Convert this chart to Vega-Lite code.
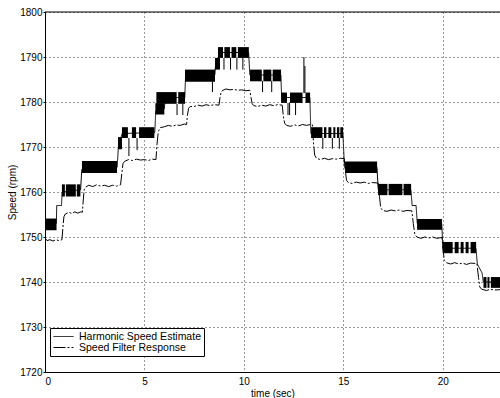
{
  "$schema": "https://vega.github.io/schema/vega-lite/v6.json",
  "autosize": "none",
  "padding": {"left": 45, "top": 12, "right": 0, "bottom": 26},
  "width": 455,
  "height": 360,
  "background": "white",
  "config": {
    "view": {"stroke": null},
    "font": "Liberation Sans",
    "axis": {
      "grid": true,
      "gridDash": [1, 3],
      "gridColor": "#000",
      "gridOpacity": 0.8,
      "domainColor": "#000",
      "ticks": false,
      "labelFontSize": 10,
      "labelColor": "#000",
      "titleFontSize": 10,
      "titleFontWeight": "normal",
      "titleColor": "#000"
    }
  },
  "datasets": {
    "lines": [
      {"series": "Harmonic Speed Estimate", "t": 0, "v": 1753},
      {"series": "Harmonic Speed Estimate", "t": 0.57, "v": 1753},
      {"series": "Harmonic Speed Estimate", "t": 0.59, "v": 1757},
      {"series": "Harmonic Speed Estimate", "t": 0.83, "v": 1757},
      {"series": "Harmonic Speed Estimate", "t": 0.86, "v": 1760},
      {"series": "Harmonic Speed Estimate", "t": 1.79, "v": 1760.5},
      {"series": "Harmonic Speed Estimate", "t": 1.85, "v": 1765},
      {"series": "Harmonic Speed Estimate", "t": 3.63, "v": 1765.5},
      {"series": "Harmonic Speed Estimate", "t": 3.69, "v": 1770},
      {"series": "Harmonic Speed Estimate", "t": 3.88, "v": 1773},
      {"series": "Harmonic Speed Estimate", "t": 5.52, "v": 1773.2},
      {"series": "Harmonic Speed Estimate", "t": 5.57, "v": 1778},
      {"series": "Harmonic Speed Estimate", "t": 6.0, "v": 1778.5},
      {"series": "Harmonic Speed Estimate", "t": 6.05, "v": 1781},
      {"series": "Harmonic Speed Estimate", "t": 7.03, "v": 1781},
      {"series": "Harmonic Speed Estimate", "t": 7.07, "v": 1786},
      {"series": "Harmonic Speed Estimate", "t": 8.54, "v": 1786},
      {"series": "Harmonic Speed Estimate", "t": 8.58, "v": 1788.5},
      {"series": "Harmonic Speed Estimate", "t": 8.7, "v": 1788.5},
      {"series": "Harmonic Speed Estimate", "t": 8.74, "v": 1791},
      {"series": "Harmonic Speed Estimate", "t": 10.24, "v": 1791},
      {"series": "Harmonic Speed Estimate", "t": 10.3, "v": 1786},
      {"series": "Harmonic Speed Estimate", "t": 11.86, "v": 1786},
      {"series": "Harmonic Speed Estimate", "t": 11.9, "v": 1781},
      {"series": "Harmonic Speed Estimate", "t": 13.32, "v": 1781},
      {"series": "Harmonic Speed Estimate", "t": 13.37, "v": 1773},
      {"series": "Harmonic Speed Estimate", "t": 14.98, "v": 1773},
      {"series": "Harmonic Speed Estimate", "t": 15.06, "v": 1765.5},
      {"series": "Harmonic Speed Estimate", "t": 16.69, "v": 1765.5},
      {"series": "Harmonic Speed Estimate", "t": 16.76, "v": 1760.5},
      {"series": "Harmonic Speed Estimate", "t": 18.4, "v": 1760.5},
      {"series": "Harmonic Speed Estimate", "t": 18.46, "v": 1757},
      {"series": "Harmonic Speed Estimate", "t": 18.66, "v": 1757},
      {"series": "Harmonic Speed Estimate", "t": 18.72, "v": 1753},
      {"series": "Harmonic Speed Estimate", "t": 19.95, "v": 1753},
      {"series": "Harmonic Speed Estimate", "t": 20.01, "v": 1747.5},
      {"series": "Harmonic Speed Estimate", "t": 21.67, "v": 1747.5},
      {"series": "Harmonic Speed Estimate", "t": 21.74, "v": 1744},
      {"series": "Harmonic Speed Estimate", "t": 21.98, "v": 1742},
      {"series": "Harmonic Speed Estimate", "t": 22.04, "v": 1740},
      {"series": "Harmonic Speed Estimate", "t": 22.88, "v": 1740},

      {"series": "Speed Filter Response", "t": 0, "v": 1749.8},
      {"series": "Speed Filter Response", "t": 0.1, "v": 1749.2},
      {"series": "Speed Filter Response", "t": 0.25, "v": 1749.4},
      {"series": "Speed Filter Response", "t": 0.4, "v": 1749.1},
      {"series": "Speed Filter Response", "t": 0.55, "v": 1749.4},
      {"series": "Speed Filter Response", "t": 0.7, "v": 1749.2},
      {"series": "Speed Filter Response", "t": 0.85, "v": 1749.4},
      {"series": "Speed Filter Response", "t": 0.9, "v": 1752},
      {"series": "Speed Filter Response", "t": 0.95, "v": 1754.5},
      {"series": "Speed Filter Response", "t": 1.02, "v": 1755.1},
      {"series": "Speed Filter Response", "t": 1.2, "v": 1755.5},
      {"series": "Speed Filter Response", "t": 1.35, "v": 1755.2},
      {"series": "Speed Filter Response", "t": 1.5, "v": 1755.6},
      {"series": "Speed Filter Response", "t": 1.65, "v": 1755.3},
      {"series": "Speed Filter Response", "t": 1.8, "v": 1755.6},
      {"series": "Speed Filter Response", "t": 1.88, "v": 1755.5},
      {"series": "Speed Filter Response", "t": 1.92, "v": 1758},
      {"series": "Speed Filter Response", "t": 1.97, "v": 1760.5},
      {"series": "Speed Filter Response", "t": 2.05, "v": 1761.1},
      {"series": "Speed Filter Response", "t": 2.2, "v": 1761.5},
      {"series": "Speed Filter Response", "t": 2.4, "v": 1761.2},
      {"series": "Speed Filter Response", "t": 2.6, "v": 1761.6},
      {"series": "Speed Filter Response", "t": 2.8, "v": 1761.3},
      {"series": "Speed Filter Response", "t": 3.0, "v": 1761.5},
      {"series": "Speed Filter Response", "t": 3.2, "v": 1761.2},
      {"series": "Speed Filter Response", "t": 3.4, "v": 1761.5},
      {"series": "Speed Filter Response", "t": 3.6, "v": 1761.3},
      {"series": "Speed Filter Response", "t": 3.8, "v": 1761.6},
      {"series": "Speed Filter Response", "t": 3.86, "v": 1764},
      {"series": "Speed Filter Response", "t": 3.92, "v": 1766.3},
      {"series": "Speed Filter Response", "t": 4.0, "v": 1766.8},
      {"series": "Speed Filter Response", "t": 4.2, "v": 1767.2},
      {"series": "Speed Filter Response", "t": 4.4, "v": 1767.0},
      {"series": "Speed Filter Response", "t": 4.6, "v": 1767.3},
      {"series": "Speed Filter Response", "t": 4.8, "v": 1767.1},
      {"series": "Speed Filter Response", "t": 5.0, "v": 1767.2},
      {"series": "Speed Filter Response", "t": 5.2, "v": 1767.0},
      {"series": "Speed Filter Response", "t": 5.4, "v": 1767.3},
      {"series": "Speed Filter Response", "t": 5.58, "v": 1767.2},
      {"series": "Speed Filter Response", "t": 5.63, "v": 1770.5},
      {"series": "Speed Filter Response", "t": 5.7, "v": 1773.5},
      {"series": "Speed Filter Response", "t": 5.8, "v": 1774.3},
      {"series": "Speed Filter Response", "t": 6.0, "v": 1774.5},
      {"series": "Speed Filter Response", "t": 6.2, "v": 1774.8},
      {"series": "Speed Filter Response", "t": 6.4, "v": 1774.6},
      {"series": "Speed Filter Response", "t": 6.6, "v": 1774.9},
      {"series": "Speed Filter Response", "t": 6.8, "v": 1774.8},
      {"series": "Speed Filter Response", "t": 7.0, "v": 1775.1},
      {"series": "Speed Filter Response", "t": 7.12, "v": 1775.0},
      {"series": "Speed Filter Response", "t": 7.16, "v": 1777},
      {"series": "Speed Filter Response", "t": 7.22, "v": 1778.6},
      {"series": "Speed Filter Response", "t": 7.3, "v": 1779.0},
      {"series": "Speed Filter Response", "t": 7.5, "v": 1779.0},
      {"series": "Speed Filter Response", "t": 7.7, "v": 1779.3},
      {"series": "Speed Filter Response", "t": 7.9, "v": 1779.1},
      {"series": "Speed Filter Response", "t": 8.1, "v": 1779.4},
      {"series": "Speed Filter Response", "t": 8.3, "v": 1779.2},
      {"series": "Speed Filter Response", "t": 8.5, "v": 1779.4},
      {"series": "Speed Filter Response", "t": 8.75, "v": 1779.3},
      {"series": "Speed Filter Response", "t": 8.8, "v": 1781},
      {"series": "Speed Filter Response", "t": 8.86, "v": 1782.3},
      {"series": "Speed Filter Response", "t": 8.95, "v": 1782.6},
      {"series": "Speed Filter Response", "t": 9.1, "v": 1782.9},
      {"series": "Speed Filter Response", "t": 9.3, "v": 1782.7},
      {"series": "Speed Filter Response", "t": 9.5, "v": 1782.8},
      {"series": "Speed Filter Response", "t": 9.7, "v": 1782.6},
      {"series": "Speed Filter Response", "t": 9.9, "v": 1782.7},
      {"series": "Speed Filter Response", "t": 10.1, "v": 1782.5},
      {"series": "Speed Filter Response", "t": 10.3, "v": 1782.6},
      {"series": "Speed Filter Response", "t": 10.36, "v": 1781},
      {"series": "Speed Filter Response", "t": 10.42, "v": 1779.6},
      {"series": "Speed Filter Response", "t": 10.5, "v": 1779.2},
      {"series": "Speed Filter Response", "t": 10.7, "v": 1779.0},
      {"series": "Speed Filter Response", "t": 10.9, "v": 1779.3},
      {"series": "Speed Filter Response", "t": 11.1, "v": 1779.1},
      {"series": "Speed Filter Response", "t": 11.3, "v": 1779.4},
      {"series": "Speed Filter Response", "t": 11.5, "v": 1779.2},
      {"series": "Speed Filter Response", "t": 11.7, "v": 1779.4},
      {"series": "Speed Filter Response", "t": 11.93, "v": 1779.3},
      {"series": "Speed Filter Response", "t": 11.98, "v": 1777},
      {"series": "Speed Filter Response", "t": 12.05, "v": 1775.3},
      {"series": "Speed Filter Response", "t": 12.15, "v": 1774.8},
      {"series": "Speed Filter Response", "t": 12.35, "v": 1774.6},
      {"series": "Speed Filter Response", "t": 12.55, "v": 1774.9},
      {"series": "Speed Filter Response", "t": 12.75, "v": 1774.7},
      {"series": "Speed Filter Response", "t": 12.95, "v": 1775.0},
      {"series": "Speed Filter Response", "t": 13.15, "v": 1774.8},
      {"series": "Speed Filter Response", "t": 13.35, "v": 1775.0},
      {"series": "Speed Filter Response", "t": 13.45, "v": 1774.9},
      {"series": "Speed Filter Response", "t": 13.5, "v": 1771},
      {"series": "Speed Filter Response", "t": 13.56, "v": 1768.2},
      {"series": "Speed Filter Response", "t": 13.65, "v": 1767.5},
      {"series": "Speed Filter Response", "t": 13.85, "v": 1767.2},
      {"series": "Speed Filter Response", "t": 14.05, "v": 1767.5},
      {"series": "Speed Filter Response", "t": 14.25, "v": 1767.2},
      {"series": "Speed Filter Response", "t": 14.45, "v": 1767.4},
      {"series": "Speed Filter Response", "t": 14.65, "v": 1767.3},
      {"series": "Speed Filter Response", "t": 14.85, "v": 1767.5},
      {"series": "Speed Filter Response", "t": 15.05, "v": 1767.4},
      {"series": "Speed Filter Response", "t": 15.1, "v": 1765},
      {"series": "Speed Filter Response", "t": 15.16, "v": 1762.6},
      {"series": "Speed Filter Response", "t": 15.25, "v": 1762.1},
      {"series": "Speed Filter Response", "t": 15.45, "v": 1761.9},
      {"series": "Speed Filter Response", "t": 15.65, "v": 1762.2},
      {"series": "Speed Filter Response", "t": 15.85, "v": 1762.0},
      {"series": "Speed Filter Response", "t": 16.05, "v": 1762.2},
      {"series": "Speed Filter Response", "t": 16.25, "v": 1761.9},
      {"series": "Speed Filter Response", "t": 16.45, "v": 1762.1},
      {"series": "Speed Filter Response", "t": 16.75, "v": 1762.0},
      {"series": "Speed Filter Response", "t": 16.82, "v": 1759},
      {"series": "Speed Filter Response", "t": 16.88, "v": 1756.5},
      {"series": "Speed Filter Response", "t": 16.98, "v": 1755.9},
      {"series": "Speed Filter Response", "t": 17.2, "v": 1755.7},
      {"series": "Speed Filter Response", "t": 17.4, "v": 1756.0},
      {"series": "Speed Filter Response", "t": 17.6, "v": 1755.8},
      {"series": "Speed Filter Response", "t": 17.8, "v": 1756.0},
      {"series": "Speed Filter Response", "t": 18.0, "v": 1755.7},
      {"series": "Speed Filter Response", "t": 18.2, "v": 1755.9},
      {"series": "Speed Filter Response", "t": 18.45, "v": 1755.8},
      {"series": "Speed Filter Response", "t": 18.52, "v": 1753},
      {"series": "Speed Filter Response", "t": 18.6, "v": 1750.5},
      {"series": "Speed Filter Response", "t": 18.7, "v": 1750.0},
      {"series": "Speed Filter Response", "t": 18.9, "v": 1749.7},
      {"series": "Speed Filter Response", "t": 19.1, "v": 1750.0},
      {"series": "Speed Filter Response", "t": 19.3, "v": 1749.8},
      {"series": "Speed Filter Response", "t": 19.5, "v": 1750.0},
      {"series": "Speed Filter Response", "t": 19.7, "v": 1749.7},
      {"series": "Speed Filter Response", "t": 19.96, "v": 1749.9},
      {"series": "Speed Filter Response", "t": 20.02, "v": 1747},
      {"series": "Speed Filter Response", "t": 20.08, "v": 1744.8},
      {"series": "Speed Filter Response", "t": 20.18, "v": 1744.3},
      {"series": "Speed Filter Response", "t": 20.4, "v": 1744.0},
      {"series": "Speed Filter Response", "t": 20.6, "v": 1744.3},
      {"series": "Speed Filter Response", "t": 20.8, "v": 1744.0},
      {"series": "Speed Filter Response", "t": 21.0, "v": 1744.2},
      {"series": "Speed Filter Response", "t": 21.2, "v": 1743.9},
      {"series": "Speed Filter Response", "t": 21.4, "v": 1744.2},
      {"series": "Speed Filter Response", "t": 21.72, "v": 1744.1},
      {"series": "Speed Filter Response", "t": 21.8, "v": 1741},
      {"series": "Speed Filter Response", "t": 21.86, "v": 1738.9},
      {"series": "Speed Filter Response", "t": 21.96, "v": 1738.4},
      {"series": "Speed Filter Response", "t": 22.2, "v": 1738.1},
      {"series": "Speed Filter Response", "t": 22.4, "v": 1738.4},
      {"series": "Speed Filter Response", "t": 22.6, "v": 1738.2},
      {"series": "Speed Filter Response", "t": 22.88, "v": 1738.3}
    ],
    "bands": [
      {"t0": 0, "t1": 0.58, "lo": 1751.5, "hi": 1754.1},
      {"t0": 0.85, "t1": 1.0, "lo": 1759, "hi": 1761.7},
      {"t0": 1.05, "t1": 1.55, "lo": 1759, "hi": 1761.7},
      {"t0": 1.6, "t1": 1.78, "lo": 1759, "hi": 1761.7},
      {"t0": 1.86, "t1": 3.62, "lo": 1764.2, "hi": 1766.9},
      {"t0": 3.67, "t1": 3.87, "lo": 1769.5, "hi": 1772.2},
      {"t0": 3.87, "t1": 4.17, "lo": 1772, "hi": 1774.4},
      {"t0": 4.37, "t1": 4.58, "lo": 1772, "hi": 1774.4},
      {"t0": 4.73, "t1": 5.5, "lo": 1772, "hi": 1774.4},
      {"t0": 5.55, "t1": 6.0, "lo": 1777.2, "hi": 1779.7},
      {"t0": 5.6, "t1": 6.62, "lo": 1779.6, "hi": 1782.2},
      {"t0": 6.7, "t1": 7.04, "lo": 1779.6, "hi": 1782.2},
      {"t0": 7.04, "t1": 8.55, "lo": 1784.5, "hi": 1787.2},
      {"t0": 8.55, "t1": 8.8, "lo": 1787.2, "hi": 1789.8},
      {"t0": 8.7, "t1": 8.95, "lo": 1789.8, "hi": 1792.2},
      {"t0": 9.02, "t1": 9.3, "lo": 1789.8, "hi": 1792.2},
      {"t0": 9.38, "t1": 9.62, "lo": 1789.8, "hi": 1792.2},
      {"t0": 9.7, "t1": 10.25, "lo": 1789.8, "hi": 1792.2},
      {"t0": 10.31, "t1": 10.9, "lo": 1784.6, "hi": 1787.2},
      {"t0": 10.98, "t1": 11.38, "lo": 1784.6, "hi": 1787.2},
      {"t0": 11.45, "t1": 11.87, "lo": 1784.6, "hi": 1787.2},
      {"t0": 11.87, "t1": 12.17, "lo": 1779.8, "hi": 1782.1},
      {"t0": 12.32, "t1": 12.95, "lo": 1779.8, "hi": 1782.1},
      {"t0": 13.1, "t1": 13.33, "lo": 1779.8, "hi": 1782.1},
      {"t0": 13.38, "t1": 13.95, "lo": 1772, "hi": 1774.4},
      {"t0": 14.03, "t1": 14.15, "lo": 1772, "hi": 1774.4},
      {"t0": 14.25, "t1": 14.4, "lo": 1772, "hi": 1774.4},
      {"t0": 14.5, "t1": 14.6, "lo": 1772, "hi": 1774.4},
      {"t0": 14.68, "t1": 14.8, "lo": 1772, "hi": 1774.4},
      {"t0": 14.85, "t1": 14.99, "lo": 1772, "hi": 1774.4},
      {"t0": 15.09, "t1": 16.7, "lo": 1764.2, "hi": 1766.8},
      {"t0": 16.75, "t1": 17.22, "lo": 1759.3, "hi": 1761.8},
      {"t0": 17.28, "t1": 17.97, "lo": 1759.3, "hi": 1761.8},
      {"t0": 18.03, "t1": 18.41, "lo": 1759.3, "hi": 1761.8},
      {"t0": 18.71, "t1": 19.96, "lo": 1751.6, "hi": 1754},
      {"t0": 20.0, "t1": 20.5, "lo": 1746.4, "hi": 1748.9},
      {"t0": 20.6, "t1": 20.8, "lo": 1746.4, "hi": 1748.9},
      {"t0": 20.9, "t1": 21.05, "lo": 1746.4, "hi": 1748.9},
      {"t0": 21.15, "t1": 21.3, "lo": 1746.4, "hi": 1748.9},
      {"t0": 21.4, "t1": 21.68, "lo": 1746.4, "hi": 1748.9},
      {"t0": 22.05, "t1": 22.2, "lo": 1738.7, "hi": 1741.1},
      {"t0": 22.25, "t1": 22.35, "lo": 1738.7, "hi": 1741.1},
      {"t0": 22.42, "t1": 22.88, "lo": 1738.7, "hi": 1741.1}
    ],
    "spikes": [
      {"t": 4.22, "y1": 1768, "y2": 1772},
      {"t": 4.63, "y1": 1769.3, "y2": 1772},
      {"t": 6.64, "y1": 1777.1, "y2": 1779.6},
      {"t": 6.93, "y1": 1777.1, "y2": 1779.6},
      {"t": 8.42, "y1": 1782.2, "y2": 1784.5},
      {"t": 9.0, "y1": 1787.2, "y2": 1789.8},
      {"t": 9.33, "y1": 1787.2, "y2": 1789.8},
      {"t": 9.65, "y1": 1787.2, "y2": 1789.8},
      {"t": 9.95, "y1": 1787.2, "y2": 1789.8},
      {"t": 10.94, "y1": 1782.2, "y2": 1784.7},
      {"t": 11.4, "y1": 1782.2, "y2": 1784.7},
      {"t": 12.22, "y1": 1777.1, "y2": 1779.8},
      {"t": 12.3, "y1": 1777.1, "y2": 1779.8},
      {"t": 12.6, "y1": 1777.1, "y2": 1779.8},
      {"t": 13.02, "y1": 1782, "y2": 1790},
      {"t": 13.07, "y1": 1782, "y2": 1788},
      {"t": 13.97, "y1": 1769.6, "y2": 1772},
      {"t": 14.45, "y1": 1769.6, "y2": 1772},
      {"t": 14.8, "y1": 1769.6, "y2": 1772}
    ],
    "frame": [{"top": 1800}]
  },
  "layer": [
    {
      "data": {"name": "frame"},
      "mark": {"type": "rule", "color": "#000", "strokeWidth": 1},
      "encoding": {"y": {"field": "top", "type": "quantitative", "scale": {"domain": [1720, 1800], "nice": false, "zero": false}}}
    },
    {
      "data": {"name": "bands"},
      "mark": {"type": "rect", "color": "#000", "clip": true},
      "encoding": {
        "x": {"field": "t0", "type": "quantitative"},
        "x2": {"field": "t1"},
        "y": {"field": "lo", "type": "quantitative"},
        "y2": {"field": "hi"}
      }
    },
    {
      "data": {"name": "spikes"},
      "mark": {"type": "rule", "color": "#000", "strokeWidth": 1, "clip": true},
      "encoding": {
        "x": {"field": "t", "type": "quantitative"},
        "y": {"field": "y1", "type": "quantitative"},
        "y2": {"field": "y2"}
      }
    },
    {
      "data": {"name": "lines"},
      "mark": {"type": "line", "color": "#000", "strokeWidth": 1, "clip": true},
      "encoding": {
        "x": {
          "field": "t", "type": "quantitative",
          "scale": {"domain": [0, 22.88], "nice": false, "zero": false},
          "axis": {"values": [0, 5, 10, 15, 20], "title": "time (sec)", "labelPadding": 4, "titlePadding": 2}
        },
        "y": {
          "field": "v", "type": "quantitative",
          "scale": {"domain": [1720, 1800], "nice": false, "zero": false},
          "axis": {"values": [1720, 1730, 1740, 1750, 1760, 1770, 1780, 1790, 1800], "format": "d", "title": "Speed (rpm)", "ticks": true, "tickSize": 2, "tickColor": "#000", "labelPadding": 1, "titlePadding": 2}
        },
        "strokeDash": {
          "field": "series", "type": "nominal",
          "scale": {"domain": ["Harmonic Speed Estimate", "Speed Filter Response"], "range": [[1, 0], [12, 2, 2, 2]]},
          "legend": {
            "title": null,
            "orient": "none",
            "legendX": 5,
            "legendY": 316,
            "strokeColor": "#000",
            "fillColor": "#fff",
            "padding": 3,
            "cornerRadius": 0,
            "symbolType": "stroke",
            "symbolSize": 400,
            "symbolDash": [5, 2, 2, 2],
            "symbolStrokeColor": "#000",
            "symbolStrokeWidth": 1,
            "clipHeight": 11,
            "labelFontSize": 10.5,
            "labelColor": "#000",
            "labelOffset": 5,
            "rowPadding": 0,
            "labelLimit": 300
          }
        }
      }
    }
  ]
}
